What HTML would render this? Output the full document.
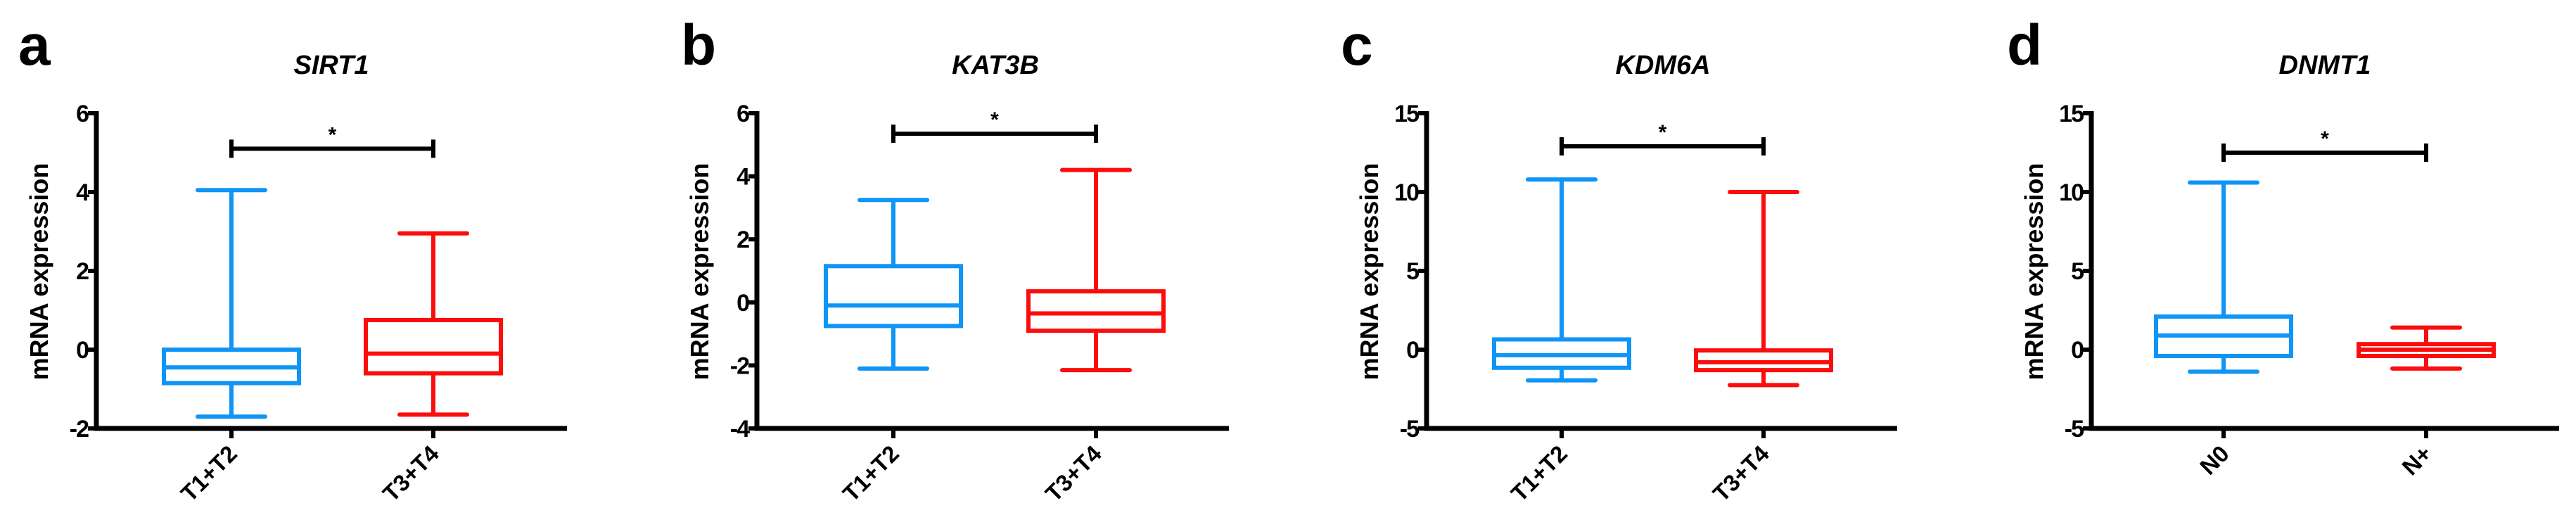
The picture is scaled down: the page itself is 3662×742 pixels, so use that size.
<!DOCTYPE html>
<html><head><meta charset="utf-8"><style>
html,body{margin:0;padding:0;background:#fff;}
svg{display:block;font-family:"Liberation Sans",sans-serif;}
</style></head><body>
<svg id="fig" width="3662" height="742" viewBox="0 0 3662 742"></svg>
<script>
const panelLetters = ["a","b","c","d"];
const panelTitles = ["SIRT1","KAT3B","KDM6A","DNMT1"];
const categoriesAC = ["T1+T2","T3+T4"];
const categoriesD = ["N0","N+"];
const yMins = [-2,-4,-5,-5];
const yMaxs = [6,6,15,15];
const yTickSteps = [2,2,5,5];
// [min, q1, median, q3, max]
const blueStats = [[-1.7,-0.85,-0.45,0.0,4.05],[-2.1,-0.75,-0.1,1.15,3.25],[-1.95,-1.15,-0.35,0.65,10.8],[-1.4,-0.4,0.9,2.1,10.6]];
const redStats = [[-1.65,-0.6,-0.1,0.75,2.95],[-2.15,-0.9,-0.35,0.35,4.2],[-2.25,-1.3,-0.8,-0.05,10.0],[-1.2,-0.4,0.0,0.35,1.4]];
const bracketValues = [5.1,5.35,12.9,12.5];

const axisXs=[137,1076,2028,2973];
const axisEnds=[806,1747,2697,3638];
const letterXs=[26,968,1906,2853];
const titleXs=[471,1415,2364,3305];
const catXs=[[329,616],[1270,1558],[2220,2507],[3161,3449]];
const yTop=161,yBot=609;
const NS="http://www.w3.org/2000/svg";
const svg=document.getElementById('fig');
function mk(tag,attrs,parent){const e=document.createElementNS(NS,tag);for(const k in attrs)e.setAttribute(k,attrs[k]);(parent||svg).appendChild(e);return e;}

for(let p=0;p<4;p++){
  const g=mk('g',{});
  
  
  const yS=v=>yBot-(v-yMins[p])/(yMaxs[p]-yMins[p])*(yBot-yTop);
  const L=mk('text',{x:letterXs[p],y:92,'font-size':82,'font-weight':'bold',fill:'#000'},g);
  L.textContent=panelLetters[p];
  
  
  const T=mk('text',{x:titleXs[p],y:105,'font-size':38,'font-weight':'bold','font-style':'italic','text-anchor':'middle',fill:'#000'},g);
  T.textContent=panelTitles[p];
  
  
  const ax=axisXs[p];
  const ya=mk('line',{x1:ax,y1:yTop-3,x2:ax,y2:yBot+3.5,stroke:'#000','stroke-width':7},g);
  
  
  const xa=mk('line',{x1:ax-3.5,y1:yBot,x2:axisEnds[p],y2:yBot,stroke:'#000','stroke-width':7},g);
  
  
  for(let v=yMins[p];v<=yMaxs[p];v+=yTickSteps[p]){
    const y=yS(v);
    const tk=mk('line',{x1:ax-12,y1:y,x2:ax,y2:y,stroke:'#000','stroke-width':6},g);
    
    
    const tl=mk('text',{x:ax-12,y:y+12,'font-size':34,'font-weight':'bold','text-anchor':'end',fill:'#000','letter-spacing':-2},g);
    tl.textContent=String(v);
    
    
  }
  const yt=mk('text',{x:0,y:0,'font-size':36,'font-weight':'bold','text-anchor':'middle',fill:'#000',transform:`translate(${ax-69},386) rotate(-90)`},g);
  yt.textContent='mRNA expression';
  
  
  const cats=p===3?categoriesD:categoriesAC;
  const stats=[blueStats[p],redStats[p]];
  const cols=['#0f95f5','#fc0d0d'];
  for(let i=0;i<2;i++){
    const cx=catXs[p][i];
    const xt=mk('line',{x1:cx,y1:yBot,x2:cx,y2:yBot+14,stroke:'#000','stroke-width':6},g);
    
    
    const xl=mk('text',{x:0,y:0,'font-size':33,'font-weight':'bold','text-anchor':'end',fill:'#000',transform:`translate(${cx+10},${yBot+38}) rotate(-45)`},g);
    xl.textContent=cats[i];
    
    
    const s=stats[i],c=cols[i];
    const bg=mk('g',{stroke:c,'stroke-width':6,fill:'none','stroke-linecap':'round'},g);
    
    
    mk('line',{x1:cx,y1:yS(s[4]),x2:cx,y2:yS(s[3])},bg);
    mk('line',{x1:cx,y1:yS(s[1]),x2:cx,y2:yS(s[0])},bg);
    mk('line',{x1:cx-48,y1:yS(s[4]),x2:cx+48,y2:yS(s[4])},bg);
    mk('line',{x1:cx-48,y1:yS(s[0]),x2:cx+48,y2:yS(s[0])},bg);
    mk('rect',{x:cx-96,y:yS(s[3]),width:192,height:yS(s[1])-yS(s[3]),'stroke-linecap':'butt'},bg);
    mk('line',{x1:cx-96,y1:yS(s[2]),x2:cx+96,y2:yS(s[2]),'stroke-linecap':'butt'},bg);
  }
  const by=yS(bracketValues[p]);
  const x1=catXs[p][0],x2=catXs[p][1];
  const br=mk('g',{stroke:'#000','stroke-width':6},g);
  
  
  mk('line',{x1:x1,y1:by,x2:x2,y2:by},br);
  mk('line',{x1:x1,y1:by-13,x2:x1,y2:by+13},br);
  mk('line',{x1:x2,y1:by-13,x2:x2,y2:by+13},br);
  const st=mk('text',{x:(x1+x2)/2,y:by-10,'font-size':30,'font-weight':'bold','text-anchor':'middle',fill:'#000'},g);
  st.textContent='*';
  
  
}
</script>
</body></html>
